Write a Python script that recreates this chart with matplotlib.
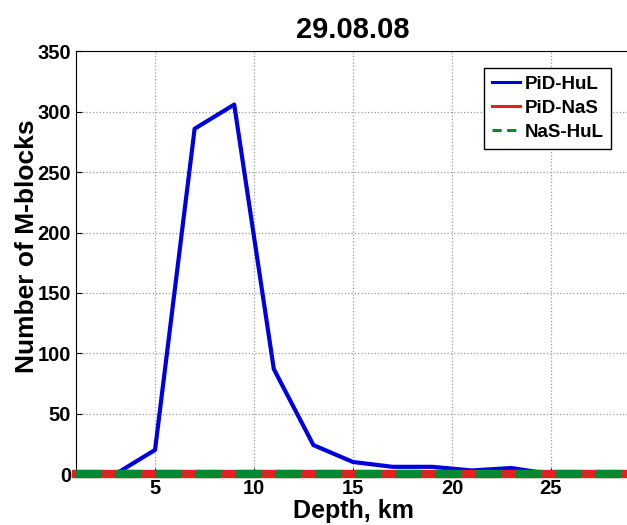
import matplotlib.pyplot as plt

plt.rcParams['font.family'] = ['Liberation Sans', 'DejaVu Sans']
plt.rcParams['font.weight'] = 'bold'

depth = [3, 5, 7, 9, 11, 13, 15, 17, 19, 21, 23, 25, 27, 29]
pid_hul = [0, 20, 286, 306, 87, 24, 10, 6, 6, 3, 5, 0, 0, 0]
depth_all = [1, 3, 5, 7, 9, 11, 13, 15, 17, 19, 21, 23, 25, 27, 29]
pid_nas = [0] * len(depth_all)
nas_hul = [0] * len(depth_all)

fig = plt.figure(figsize=(6.27, 5.25), dpi=100)
ax = fig.add_axes([0.121, 0.097, 0.884, 0.805])

ax.plot(depth, pid_hul, color='#0000dd', lw=3, label='PiD-HuL', zorder=3)
ax.plot(depth_all, pid_nas, color='#dd2222', lw=6, label='PiD-NaS', zorder=4, clip_on=False)
ax.plot(depth_all, nas_hul, color='#008833', lw=6, dashes=(3.0, 1.8),
        label='NaS-HuL', zorder=5, clip_on=False)

ax.set_xlim(1, 29)
ax.set_ylim(0, 350)
ax.set_xticks([5, 10, 15, 20, 25])
ax.set_yticks(range(0, 351, 50))
ax.tick_params(labelsize=14.5, direction='in', length=4)
ax.grid(True, linestyle=':', color='#999999', lw=0.9)

ax.set_title('29.08.08', fontsize=21, fontweight='bold', pad=10)
ax.set_xlabel('Depth, km', fontsize=18, fontweight='bold', labelpad=1)
ax.set_ylabel('Number of M-blocks', fontsize=19, fontweight='bold')
ax.yaxis.set_label_coords(-0.066, 0.54)

leg = ax.legend(loc='upper right', bbox_to_anchor=(0.972, 0.97), fontsize=13.5,
                fancybox=False, edgecolor='black', framealpha=1,
                handlelength=1.5, handletextpad=0.25, borderpad=0.4, labelspacing=0.38,
                borderaxespad=0.2)
for h in leg.get_lines():
    h.set_linewidth(2.2)

fig.savefig('out.png', dpi=100)
